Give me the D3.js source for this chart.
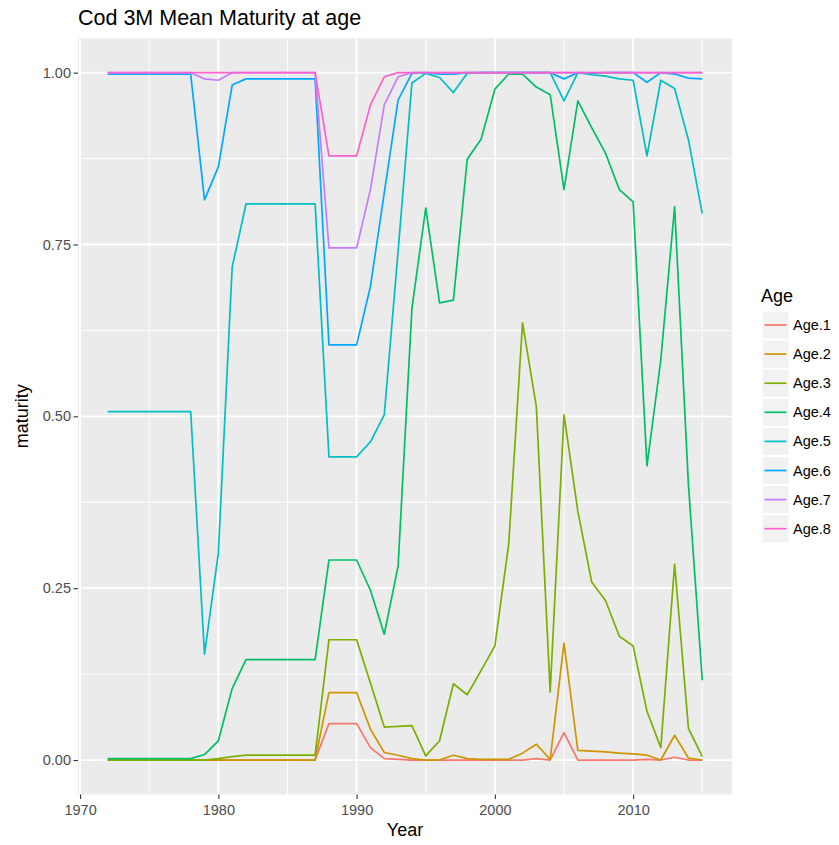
<!DOCTYPE html>
<html>
<head>
<meta charset="utf-8">
<script src="https://cdn.jsdelivr.net/npm/d3@7"></script>
<style>
    body { margin: 0; background: #fff; }
    text { font-family: "Liberation Sans", Arial, sans-serif; }
</style>
</head>
<body>
<svg id="chart" width="839" height="845"></svg>
<script>
var years = d3.range(1972, 2016);

var ages = ['Age.1', 'Age.2', 'Age.3', 'Age.4', 'Age.5', 'Age.6', 'Age.7', 'Age.8'];
var colors = ['#F8766D', '#CD9600', '#7CAE00', '#00BE67', '#00BFC4', '#00A9FF', '#C77CFF', '#FF61CC'];

// one value per year, 1972..2015
var age1 = [0, 0, 0, 0, 0, 0, 0, 0, 0, 0, 0, 0, 0, 0, 0, 0,
    0.053, 0.053, 0.053, 0.018, 0.002, 0.001, 0, 0, 0, 0, 0, 0, 0, 0, 0, 0.002, 0,
    0.04, 0, 0, 0, 0, 0, 0.001, 0, 0.004, 0, 0];
var age2 = [0, 0, 0, 0, 0, 0, 0, 0, 0, 0, 0, 0, 0, 0, 0, 0,
    0.098, 0.098, 0.098, 0.045, 0.011, 0.007, 0.002, 0, 0, 0.007, 0.002, 0.001, 0.001, 0.001, 0.01, 0.023, 0.001,
    0.17, 0.014, 0.013, 0.012, 0.01, 0.009, 0.007, 0, 0.036, 0.003, 0];
var age3 = [0, 0, 0, 0, 0, 0, 0, 0, 0.002, 0.005, 0.007, 0.007, 0.007, 0.007, 0.007, 0.007,
    0.175, 0.175, 0.175, 0.112, 0.048, 0.049, 0.05, 0.006, 0.028, 0.111, 0.095, 0.13, 0.166, 0.314, 0.636, 0.514, 0.099,
    0.502, 0.362, 0.259, 0.232, 0.18, 0.166, 0.071, 0.018, 0.285, 0.046, 0.005];
var age4 = [0.002, 0.002, 0.002, 0.002, 0.002, 0.002, 0.002, 0.008, 0.028, 0.104, 0.146, 0.146, 0.146, 0.146, 0.146, 0.146,
    0.291, 0.291, 0.291, 0.247, 0.183, 0.282, 0.657, 0.803, 0.665, 0.669, 0.874, 0.903, 0.976, 0.998, 0.998, 0.979, 0.968,
    0.83, 0.959, 0.92, 0.883, 0.83, 0.812, 0.428, 0.582, 0.805, 0.40, 0.116];
var age5 = [0.507, 0.507, 0.507, 0.507, 0.507, 0.507, 0.507, 0.154, 0.301, 0.717, 0.809, 0.809, 0.809, 0.809, 0.809, 0.809,
    0.441, 0.441, 0.441, 0.463, 0.502, 0.74, 0.985, 0.999, 0.993, 0.971, 0.999, 1, 1, 1, 1, 1, 1,
    0.959, 1, 0.997, 0.995, 0.991, 0.989, 0.879, 0.989, 0.977, 0.902, 0.795];
var age6 = [0.998, 0.998, 0.998, 0.998, 0.998, 0.998, 0.998, 0.815, 0.863, 0.982, 0.991, 0.991, 0.991, 0.991, 0.991, 0.991,
    0.604, 0.604, 0.604, 0.689, 0.825, 0.96, 0.999, 1, 0.998, 0.998, 1, 1, 1, 1, 1, 1, 1,
    0.991, 1, 0.999, 1, 1, 1, 0.986, 1, 0.998, 0.992, 0.991];
var age7 = [1, 1, 1, 1, 1, 1, 1, 0.991, 0.989, 1, 1, 1, 1, 1, 1, 1,
    0.745, 0.745, 0.745, 0.83, 0.953, 0.994, 1, 1, 1, 1, 1, 1, 1, 1, 1, 1, 1,
    1, 1, 1, 1, 1, 1, 1, 1, 1, 1, 1];
var age8 = [1, 1, 1, 1, 1, 1, 1, 1, 1, 1, 1, 1, 1, 1, 1, 1,
    0.879, 0.879, 0.879, 0.953, 0.994, 1, 1, 1, 1, 1, 1, 1, 1, 1, 1, 1, 1,
    1, 1, 1, 1, 1, 1, 1, 1, 1, 1, 1];

var series = [age1, age2, age3, age4, age5, age6, age7, age8];

var xTicks = [1970, 1980, 1990, 2000, 2010];
var xMinor = [1975, 1985, 1995, 2005, 2015];
var yTicks = [0, 0.25, 0.5, 0.75, 1];
var yMinor = [0.125, 0.375, 0.625, 0.875];

var panel = { left: 78, right: 732, top: 38.3, bottom: 794.4 };

var svg = d3.select('#chart');

var x = d3.scaleLinear()
    .domain([1969.85, 2017.15])
    .range([panel.left, panel.right]);
var y = d3.scaleLinear()
    .domain([-0.05, 1.05])
    .range([panel.bottom, panel.top]);

// panel background
svg.append('rect')
    .attr('x', panel.left)
    .attr('y', panel.top)
    .attr('width', panel.right - panel.left)
    .attr('height', panel.bottom - panel.top)
    .attr('fill', '#EBEBEB');

// grid
var grid = svg.append('g').attr('class', 'grid');
grid.selectAll('.xminor').data(xMinor)
    .enter().append('line')
    .attr('x1', x).attr('x2', x)
    .attr('y1', panel.top).attr('y2', panel.bottom)
    .attr('stroke', '#fff').attr('stroke-width', 0.9);
grid.selectAll('.yminor').data(yMinor)
    .enter().append('line')
    .attr('x1', panel.left).attr('x2', panel.right)
    .attr('y1', y).attr('y2', y)
    .attr('stroke', '#fff').attr('stroke-width', 0.9);
grid.selectAll('.xmajor').data(xTicks)
    .enter().append('line')
    .attr('x1', x).attr('x2', x)
    .attr('y1', panel.top).attr('y2', panel.bottom)
    .attr('stroke', '#fff').attr('stroke-width', 1.8);
grid.selectAll('.ymajor').data(yTicks)
    .enter().append('line')
    .attr('x1', panel.left).attr('x2', panel.right)
    .attr('y1', y).attr('y2', y)
    .attr('stroke', '#fff').attr('stroke-width', 1.8);

// lines
var line = d3.line()
    .x(function(d, i) { return x(years[i]); })
    .y(function(d) { return y(d); });

svg.append('g').selectAll('path')
        .data(series)
    .enter().append('path')
        .attr('d', line)
        .attr('fill', 'none')
        .attr('stroke', function(d, i) { return colors[i]; })
        .attr('stroke-width', 1.7)
        .attr('stroke-linejoin', 'round');

// axes
var xAxis = svg.append('g')
    .attr('transform', 'translate(0,' + panel.bottom + ')')
    .call(d3.axisBottom(x).tickValues(xTicks).tickSize(4.5).tickPadding(5.5).tickFormat(d3.format('d')));
var yAxis = svg.append('g')
    .attr('transform', 'translate(' + panel.left + ',0)')
    .call(d3.axisLeft(y).tickValues(yTicks).tickSize(4.5).tickPadding(2.5).tickFormat(d3.format('.2f')));

[xAxis, yAxis].forEach(function(a) {
    a.select('.domain').remove();
    a.selectAll('line').attr('stroke', '#333').attr('stroke-width', 1.1);
    a.selectAll('text')
        .attr('fill', '#4D4D4D')
        .style('font-size', '14.5px')
        .style('font-family', '"Liberation Sans", Arial, sans-serif');
});

// axis titles
svg.append('text')
    .attr('x', (panel.left + panel.right) / 2)
    .attr('y', 836)
    .attr('text-anchor', 'middle')
    .style('font-size', '18px')
    .text('Year');

svg.append('text')
    .attr('transform', 'translate(28,' + ((panel.top + panel.bottom) / 2) + ') rotate(-90)')
    .attr('text-anchor', 'middle')
    .style('font-size', '18px')
    .text('maturity');

// title
svg.append('text')
    .attr('x', 78)
    .attr('y', 25)
    .style('font-size', '21.5px')
    .text('Cod 3M Mean Maturity at age');

// legend
var legend = svg.append('g').attr('transform', 'translate(761,0)');
legend.append('text')
    .attr('x', 0)
    .attr('y', 302)
    .style('font-size', '18px')
    .text('Age');

var keys = legend.selectAll('.key')
        .data(ages)
    .enter().append('g')
        .attr('class', 'key')
        .attr('transform', function(d, i) { return 'translate(0,' + (311 + i * 29.1) + ')'; });

keys.append('rect')
    .attr('x', 1)
    .attr('y', 0)
    .attr('width', 27)
    .attr('height', 28)
    .attr('fill', '#F2F2F2')
    .attr('stroke', '#fff')
    .attr('stroke-width', 1);

keys.append('line')
    .attr('x1', 3.5)
    .attr('x2', 25.5)
    .attr('y1', 14)
    .attr('y2', 14)
    .attr('stroke', function(d, i) { return colors[i]; })
    .attr('stroke-width', 1.7);

keys.append('text')
    .attr('x', 32)
    .attr('y', 14)
    .attr('dy', '0.35em')
    .style('font-size', '14.5px')
    .text(function(d) { return d; });
</script>
</body>
</html>
